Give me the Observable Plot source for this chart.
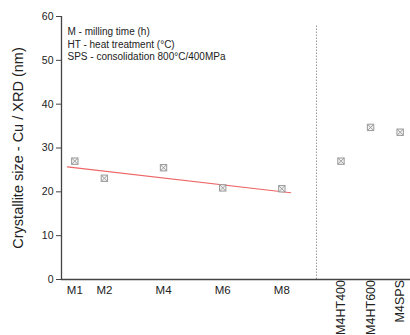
<!DOCTYPE html>
<html><head><meta charset="utf-8">
<script src="https://cdn.jsdelivr.net/npm/d3@7"></script>
<script src="https://cdn.jsdelivr.net/npm/@observablehq/plot@0.6"></script>
<style>body{margin:0;background:#fff}#c svg{display:block}</style>
</head><body><div id="c"></div>
<script>
const labels = ["M1","M2","M4","M6","M8","M4HT400","M4HT600","M4SPS"];
const positions = [1,2,4,6,8,10,11,12];
const sizes = [27,23.1,25.5,20.9,20.7,27,34.7,33.6];
const fitX = [0.75, 8.3];
const fitY = [25.7, 19.8];
const separatorX = 9.17;
const notes = ["M - milling time (h)","HT - heat treatment (°C)","SPS - consolidation 800°C/400MPa"];
const yTicks = [0,10,20,30,40,50,60];
const yLabel = "Crystallite size - Cu / XRD (nm)";

const pts = labels.map((l,i)=>({label:l, x:positions[i], y:sizes[i]}));
const fit = fitX.map((x,i)=>({x, y:fitY[i]}));
const hourTicks = positions.slice(0,5), hourLabels = labels.slice(0,5);
const otherTicks = positions.slice(5), otherLabels = labels.slice(5);

const chart = Plot.plot({
  width: 410, height: 335,
  marginLeft: 61, marginRight: 0, marginTop: 16, marginBottom: 56,
  style: {fontFamily: "Arial, 'Liberation Sans', sans-serif", background: "#fff"},
  x: {domain: [0.55, 12.35]},
  y: {domain: [0, 60]},
  marks: [
    Plot.ruleX([separatorX], {y1: 0, y2: 58, stroke: "#999", strokeDasharray: "1.5,1.5", strokeWidth: 1}),
    Plot.line(fit, {x: "x", y: "y", stroke: "#ee6666", strokeWidth: 1.1}),
    Plot.dot(pts, {x: "x", y: "y", symbol: "square", r: 3.6, stroke: "#999", strokeWidth: 1, fill: "#f2f2f2"}),
    Plot.dot(pts, {x: "x", y: "y", symbol: "times", r: 3.2, stroke: "#999", strokeWidth: 0.9}),
    Plot.axisY({ticks: yTicks, tickSize: 5, tickPadding: 3, fontSize: 10.5, label: null, stroke: "#444", color: "#222"}),
    Plot.axisX({ticks: hourTicks, tickFormat: (d,i)=>hourLabels[i], tickSize: 0, tickPadding: 6, fontSize: 11.5, label: null, color: "#222"}),
    Plot.axisX({ticks: otherTicks, tickFormat: (d,i)=>otherLabels[i], tickSize: 0, tickPadding: 0.5, tickRotate: -90, fontSize: 12.5, label: null, color: "#222"}),
    Plot.ruleX([0.55], {stroke: "#444", strokeWidth: 1.3}),
    Plot.ruleY([0], {stroke: "#444", strokeWidth: 1.3}),
    Plot.text([notes.join("\n")], {frameAnchor: "top-left", dx: 6, dy: 10, lineAnchor: "top", lineHeight: 1.25, fontSize: 10, fill: "#222"}),
    Plot.text([yLabel], {frameAnchor: "left", dx: -43, rotate: -90, textAnchor: "middle", fontSize: 14.5, fill: "#222"})
  ]
});
document.getElementById("c").append(chart);
</script>
</body></html>
